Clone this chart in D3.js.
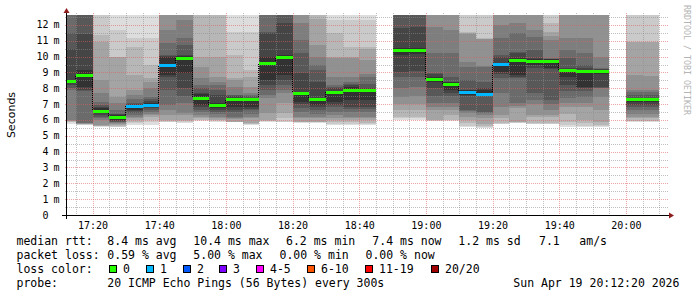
<!DOCTYPE html>
<html>
<head>
<meta charset="utf-8">
<script src="https://cdn.jsdelivr.net/npm/d3@7"></script>
<style>
  html, body { margin: 0; padding: 0; background: #fff; }
  svg { display: block; }
  text { font-family: "DejaVu Sans Mono", monospace; fill: #000; }
</style>
</head>
<body>
<div id="chart"></div>
<script>
'use strict';

const day = '2026-04-19';
const rangeStart = '17:12:20';
const rangeEnd = '20:12:20';

// 5 minute slots (start time), null = no data
const slots = ['17:10', '17:15', '17:20', '17:25', '17:30', '17:35', '17:40', '17:45', '17:50', '17:55',
               '18:00', '18:05', '18:10', '18:15', '18:20', '18:25', '18:30', '18:35', '18:40', '18:45',
               '18:50', '18:55', '19:00', '19:05', '19:10', '19:15', '19:20', '19:25', '19:30', '19:35',
               '19:40', '19:45', '19:50', '19:55', '20:00', '20:05'];

const medians = [8.48, 8.82, 6.57, 6.17, 6.86, 6.95, 9.49, 9.89, 7.39, 6.97,
                 7.30, 7.35, 9.58, 9.96, 7.73, 7.35, 7.79, 7.90, 7.88, null,
                 10.42, 10.42, 8.61, 8.29, 7.77, 7.66, 9.52, 9.79, 9.73, 9.73,
                 9.16, 9.10, 9.10, null, 7.35, 7.35];

const losses = [0, 0, 0, 0, 1, 1, 1, 0, 0, 0,
                0, 0, 0, 0, 0, 0, 0, 0, 0, null,
                0, 0, 0, 0, 1, 1, 1, 0, 0, 0,
                0, 0, 0, null, 0, 0];

// 20 sorted ping rtts (ms) per slot
const pings = [
  [5.75, 5.85, 5.9, 5.92, 5.95, 5.97, 7.9, 8.0, 8.2, 8.4, 8.55, 10.5, 11.5, 13, 13.5, 14, 14.5, 15, 16, 17],
  [5.68, 5.7, 5.72, 5.74, 5.76, 5.78, 5.8, 7.85, 7.9, 8.11, 9.16, 11.4, 13, 13.5, 14, 14.5, 15, 16, 17, 18],
  [5.54, 5.6, 5.62, 5.65, 5.68, 6.0, 6.1, 6.21, 6.3, 6.42, 6.74, 6.8, 6.95, 7.16, 7.68, 8.53, 10.95, 11.37, 13, 14],
  [5.54, 5.58, 5.62, 5.7, 5.75, 5.79, 5.85, 5.9, 5.95, 6.0, 6.32, 6.35, 6.4, 6.63, 7.05, 7.47, 9.95, 10.0, 11.68, 13],
  [5.68, 5.8, 5.9, 6.0, 6.1, 6.2, 6.32, 6.45, 6.55, 6.63, 6.95, 7.0, 7.05, 7.3, 7.6, 7.9, 8.84, 10.63, 11.16, 13],
  [5.68, 5.85, 6.0, 6.21, 6.3, 6.4, 6.5, 6.63, 6.75, 6.84, 7.1, 7.2, 7.3, 7.47, 8.0, 8.42, 8.63, 9.5, 11.16, 13],
  [5.85, 5.9, 5.95, 6.0, 6.32, 6.6, 6.95, 7.9, 8.7, 8.84, 10.0, 10.05, 10.1, 10.84, 11.68, 13, 13.5, 14, 15, 16],
  [5.8, 5.85, 5.95, 6.0, 6.3, 6.42, 7.05, 7.5, 8.0, 8.95, 10.05, 10.1, 10.74, 11.16, 12.3, 13, 13.5, 14, 15, 16],
  [5.95, 5.97, 6.0, 6.1, 6.2, 6.32, 6.5, 6.63, 6.84, 6.95, 7.65, 7.68, 8.0, 8.21, 8.63, 9.37, 10.0, 13, 14, 15],
  [5.9, 5.93, 5.97, 6.0, 6.1, 6.21, 6.4, 6.53, 6.63, 6.74, 7.05, 7.6, 7.9, 8.2, 8.42, 8.74, 10.0, 13, 14, 15],
  [5.85, 5.86, 5.88, 5.9, 6.05, 6.15, 6.21, 6.5, 6.63, 6.84, 7.37, 7.5, 7.55, 7.58, 8.11, 8.5, 8.63, 10.1, 11.58, 13],
  [5.7, 5.72, 5.75, 5.79, 6.1, 6.21, 6.4, 6.63, 6.7, 6.84, 7.37, 7.4, 7.5, 7.6, 7.68, 8.11, 8.74, 9.16, 11.58, 13],
  [5.9, 5.92, 5.95, 6.0, 6.42, 7.37, 7.6, 7.9, 8.2, 8.53, 10.0, 11.5, 11.58, 13, 13.5, 14, 14.5, 15, 16, 17],
  [5.88, 5.9, 6.1, 6.42, 7.05, 7.68, 7.9, 8.21, 8.5, 8.84, 10.1, 12.1, 13, 13.5, 14, 14.5, 15, 16, 17, 18],
  [5.83, 5.85, 5.87, 5.9, 6.1, 6.21, 6.5, 6.74, 7.0, 7.16, 7.79, 8.95, 10.21, 11.05, 12.1, 13, 13.5, 14, 15, 16],
  [5.83, 5.85, 5.87, 5.9, 6.1, 6.21, 6.4, 6.63, 6.8, 6.95, 7.37, 8.42, 9.16, 9.5, 10.0, 10.74, 12.4, 13, 14, 15],
  [5.68, 5.75, 5.85, 6.0, 6.15, 6.32, 6.5, 6.8, 6.95, 7.16, 7.79, 8.0, 8.1, 8.21, 8.74, 9.9, 10.0, 11.47, 12.32, 13],
  [5.68, 5.75, 5.85, 6.0, 6.15, 6.21, 6.5, 6.7, 6.84, 7.26, 8.11, 8.2, 8.3, 8.4, 8.74, 9.9, 10.0, 10.63, 12.32, 13],
  [5.68, 5.72, 5.79, 6.0, 6.1, 6.21, 6.5, 6.7, 6.84, 7.26, 7.9, 8.0, 8.3, 8.74, 8.9, 9.79, 10.5, 10.63, 12.32, 13],
  null,
  [6.0, 6.1, 6.21, 6.63, 7.0, 7.47, 8.0, 8.74, 9.05, 10.1, 10.53, 11.79, 13, 13.5, 14, 14.5, 15, 16, 17, 18],
  [6.0, 6.1, 6.2, 6.6, 7.0, 7.5, 8.1, 8.7, 9.1, 10.15, 10.55, 11.9, 13, 13.5, 14, 14.5, 15, 16, 17, 18],
  [5.93, 5.95, 5.97, 6.0, 6.63, 6.84, 7.05, 7.5, 8.0, 8.42, 8.74, 8.9, 8.95, 10.21, 11.89, 13, 13.5, 14, 15, 16],
  [5.95, 5.97, 6.0, 6.3, 6.63, 6.84, 7.05, 7.5, 7.68, 7.9, 8.4, 8.42, 8.74, 10.21, 11.68, 13, 13.5, 14, 15, 16],
  [5.58, 5.65, 5.8, 6.0, 6.21, 6.45, 6.55, 6.63, 7.5, 7.58, 7.88, 7.9, 8.53, 9.37, 9.68, 11.4, 11.5, 11.58, 13, 14],
  [5.47, 5.55, 5.62, 5.75, 6.11, 6.3, 6.45, 6.53, 7.5, 7.58, 7.9, 8.0, 8.42, 9.37, 9.4, 11.1, 11.13, 11.16, 13, 14],
  [5.75, 5.77, 5.79, 6.1, 6.32, 6.84, 7.68, 8.63, 8.9, 9.05, 9.58, 10.0, 10.1, 11.16, 12.0, 13, 13.5, 14, 15, 16],
  [5.8, 5.82, 5.85, 5.9, 6.74, 6.9, 7.05, 8.63, 8.7, 8.84, 9.89, 10.2, 10.32, 11.47, 12.1, 13, 13.5, 14, 15, 16],
  [5.75, 5.77, 5.79, 6.2, 6.32, 7.0, 7.26, 7.68, 9.26, 9.47, 9.85, 9.9, 10.42, 11.26, 11.68, 13, 13.5, 14, 15, 16],
  [5.75, 5.77, 5.79, 6.2, 6.32, 6.6, 7.0, 7.26, 9.2, 9.26, 9.85, 9.86, 9.88, 9.9, 11.05, 11.3, 11.58, 12.1, 13, 14],
  [5.58, 5.7, 5.9, 6.4, 6.84, 7.1, 7.37, 7.8, 8.21, 8.74, 9.24, 9.26, 9.89, 10.42, 11.16, 13, 13.5, 14, 15, 16],
  [5.58, 5.65, 5.8, 6.0, 6.84, 7.1, 7.47, 7.8, 8.0, 8.11, 9.16, 9.3, 9.47, 10.21, 11.16, 13, 13.5, 14, 15, 16],
  [5.58, 5.6, 5.7, 5.9, 6.63, 7.47, 8.0, 8.05, 8.11, 8.9, 9.15, 9.2, 9.22, 9.26, 10.0, 13, 13.5, 14, 15, 16],
  null,
  [5.9, 5.93, 5.95, 6.1, 6.21, 6.4, 6.63, 6.8, 6.95, 7.16, 7.36, 7.37, 7.58, 7.75, 7.9, 8.84, 10.9, 10.95, 13, 14],
  [5.9, 5.93, 5.95, 6.1, 6.2, 6.4, 6.6, 6.8, 6.95, 7.15, 7.38, 7.4, 7.6, 7.75, 7.9, 8.8, 10.9, 10.95, 13, 14]
];

const yTickLabels = ['0', '1 m', '2 m', '3 m', '4 m', '5 m', '6 m', '7 m', '8 m', '9 m', '10 m', '11 m', '12 m'];
const xTickLabels = ['17:20', '17:40', '18:00', '18:20', '18:40', '19:00', '19:20', '19:40', '20:00'];

const lossLabels = ['0', '1', '2', '3', '4-5', '6-10', '11-19', '20/20'];
const lossColors = ['#26ff00', '#00b8ff', '#0059ff', '#7e00ff', '#ff00ff', '#ff5500', '#ff0000', '#a10000'];

const rttStats = ['8.4 ms avg', '10.4 ms max', '6.2 ms min', '7.4 ms now', '1.2 ms sd', '7.1', 'am/s'];
const lossStats = ['0.59 % avg', '5.00 % max', '0.00 % min', '0.00 % now'];
const probeText = '20 ICMP Echo Pings (56 Bytes) every 300s';
const stampText = 'Sun Apr 19 20:12:20 2026';


function lossIndex( n ) {
    if ( n <= 3 ) { return n; }
    if ( n <= 5 ) { return 4; }
    if ( n <= 10 ) { return 5; }
    if ( n <= 19 ) { return 6; }
    return 7;
}

function smokeGray( k ) {
    var v = 19 * (9 - k) + 50;
    return d3.rgb(v, v, v).toString();
}

var width = 697, height = 297;
var plot = { left: 67, right: 667, top: 15, bottom: 215 };

var parseFull = d3.utcParse('%Y-%m-%d %H:%M:%S');
var parseMin = d3.utcParse('%Y-%m-%d %H:%M');

var x = d3.scaleUtc()
    .domain([ parseFull(day + ' ' + rangeStart), parseFull(day + ' ' + rangeEnd) ])
    .range([ plot.left, plot.right ]);

var y = d3.scaleLinear()
    .domain([ 0, 12.63 ])
    .range([ plot.bottom, plot.top ]);

var svg = d3.select('#chart').append('svg')
    .attr('width', width)
    .attr('height', height)
    .attr('viewBox', [0, 0, width, height].join(' '));

svg.append('defs').append('clipPath')
    .attr('id', 'plotclip')
    .append('rect')
    .attr('x', plot.left)
    .attr('y', plot.top)
    .attr('width', plot.right - plot.left)
    .attr('height', plot.bottom - plot.top);

var columns = slots.map(function( s, i ) {
    var t0 = parseMin(day + ' ' + s);
    var t1 = d3.utcMinute.offset(t0, 5);
    return {
        x0: Math.max(plot.left, Math.round(x(t0))),
        x1: Math.round(x(t1)),
        median: medians[i],
        loss: losses[i],
        pings: pings[i]
    };
});

// smoke
var smoke = svg.append('g')
    .attr('clip-path', 'url(#plotclip)')
    .attr('shape-rendering', 'crispEdges');

columns.forEach(function( c ) {
    if ( !c.pings ) { return; }
    for ( var k = 0; k < 10; k++ ) {
        var top = y(c.pings[19 - k]);
        var bot = y(c.pings[k]);
        smoke.append('rect')
            .attr('x', c.x0)
            .attr('width', c.x1 - c.x0)
            .attr('y', top)
            .attr('height', Math.max(0, bot - top))
            .attr('fill', smokeGray(k));
    }
});

// grid
var minorColor = 'rgba(140,140,140,0.55)';
var majorColor = 'rgba(230,90,90,0.55)';
var grid = svg.append('g').attr('shape-rendering', 'crispEdges');

var minorTimes = x.ticks(d3.utcMinute.every(5));
var majorTimes = xTickLabels.map(function( l ) { return parseMin(day + ' ' + l); });

grid.selectAll('.vminor')
    .data( minorTimes.filter(function( t ) { return t.getUTCMinutes() % 20 !== 0; }) )
    .enter().append('line')
    .attr('x1', function( d ) { return Math.round(x(d)) + 0.5; })
    .attr('x2', function( d ) { return Math.round(x(d)) + 0.5; })
    .attr('y1', plot.top - 2)
    .attr('y2', plot.bottom + 2)
    .attr('stroke', minorColor)
    .attr('stroke-dasharray', '1,1');

var minorVals = d3.range(1, 26).map(function( i ) { return i * 0.5; })
    .filter(function( v ) { return v % 1 !== 0 && v < 12.63; });

grid.selectAll('.hminor')
    .data( minorVals )
    .enter().append('line')
    .attr('y1', function( d ) { return Math.round(y(d)) + 0.5; })
    .attr('y2', function( d ) { return Math.round(y(d)) + 0.5; })
    .attr('x1', plot.left - 2)
    .attr('x2', plot.right + 2)
    .attr('stroke', minorColor)
    .attr('stroke-dasharray', '1,1');

grid.selectAll('.vmajor')
    .data( majorTimes )
    .enter().append('line')
    .attr('x1', function( d ) { return Math.round(x(d)) + 0.5; })
    .attr('x2', function( d ) { return Math.round(x(d)) + 0.5; })
    .attr('y1', plot.top - 2)
    .attr('y2', plot.bottom + 2)
    .attr('stroke', majorColor)
    .attr('stroke-dasharray', '1,1');

grid.selectAll('.hmajor')
    .data( d3.range(1, yTickLabels.length) )
    .enter().append('line')
    .attr('y1', function( d ) { return Math.round(y(d)) + 0.5; })
    .attr('y2', function( d ) { return Math.round(y(d)) + 0.5; })
    .attr('x1', plot.left - 2)
    .attr('x2', plot.right + 2)
    .attr('stroke', majorColor)
    .attr('stroke-dasharray', '1,1');

// median line, coloured by loss
var med = svg.append('g')
    .attr('clip-path', 'url(#plotclip)')
    .attr('shape-rendering', 'crispEdges');

columns.forEach(function( c, i ) {
    if ( c.median === null ) { return; }
    var next = columns[i + 1];
    if ( next && next.median !== null && next.median !== c.median ) {
        med.append('line')
            .attr('x1', c.x1 - 0.5).attr('x2', c.x1 - 0.5)
            .attr('y1', y(c.median)).attr('y2', y(next.median))
            .attr('stroke', '#000')
            .attr('stroke-dasharray', '1,1');
    }
});

columns.forEach(function( c ) {
    if ( c.median === null ) { return; }
    med.append('rect')
        .attr('x', c.x0)
        .attr('width', c.x1 - c.x0)
        .attr('y', Math.round(y(c.median)) - 1)
        .attr('height', 3)
        .attr('fill', lossColors[lossIndex(c.loss)]);
});

// axes
var axes = svg.append('g').attr('shape-rendering', 'crispEdges');
axes.append('line')
    .attr('x1', plot.left - 0.5).attr('x2', plot.left - 0.5)
    .attr('y1', plot.top - 3).attr('y2', plot.bottom + 4)
    .attr('stroke', '#000');
axes.append('line')
    .attr('x1', plot.left - 5).attr('x2', plot.right + 2)
    .attr('y1', plot.bottom + 0.5).attr('y2', plot.bottom + 0.5)
    .attr('stroke', '#000');

var arrowColor = '#8f1d1d';
svg.append('path')
    .attr('d', 'M' + (plot.left - 0.5) + ',' + (plot.top - 7) + 'l-3,5h6z')
    .attr('fill', arrowColor);
svg.append('path')
    .attr('d', 'M' + (plot.right + 7) + ',' + (plot.bottom + 0.5) + 'l-5,-3v6z')
    .attr('fill', arrowColor);

// y labels
var ylab = svg.append('g').attr('font-size', '10px');
yTickLabels.forEach(function( l, i ) {
    var parts = l.split(' ');
    ylab.append('text')
        .attr('x', 48.5)
        .attr('y', y(i) + 3.5)
        .attr('text-anchor', 'end')
        .text(parts[0]);
    if ( parts[1] ) {
        ylab.append('text')
            .attr('x', 53.5)
            .attr('y', y(i) + 3.5)
            .text(parts[1]);
    }
});

// x labels
svg.append('g').attr('font-size', '10px')
    .selectAll('text')
    .data( xTickLabels )
    .enter().append('text')
    .attr('x', function( d ) { return x(parseMin(day + ' ' + d)) + 0.5; })
    .attr('y', 228.5)
    .attr('text-anchor', 'middle')
    .text(function( d ) { return d; });

// axis title and watermark
svg.append('text')
    .attr('transform', 'translate(15,' + ((plot.top + plot.bottom) / 2) + ') rotate(-90)')
    .attr('text-anchor', 'middle')
    .style('font-family', '"DejaVu Sans", sans-serif')
    .attr('font-size', '11px')
    .text('Seconds');

svg.append('text')
    .attr('transform', 'translate(684,5) rotate(90)')
    .attr('font-size', '8.3px')
    .style('fill', '#b4b4b4')
    .text('RRDTOOL / TOBI OETIKER');

// legend
var legend = svg.append('g')
    .attr('font-size', '11.5px')
    .style('white-space', 'pre');

var lineY = [245, 259, 273, 287];
var labelX = 16.5;

legend.append('text').attr('x', labelX).attr('y', lineY[0]).text('median rtt:');
var rttX = [107.3, 193.3, 286, 372.3, 458.3, 539, 579.3];
rttStats.forEach(function( s, i ) {
    legend.append('text').attr('x', rttX[i]).attr('y', lineY[0]).text(s);
});

legend.append('text').attr('x', labelX).attr('y', lineY[1]).text('packet loss:');
var lossX = [107.3, 193.3, 279.5, 365.5];
lossStats.forEach(function( s, i ) {
    legend.append('text').attr('x', lossX[i]).attr('y', lineY[1]).text(s);
});

legend.append('text').attr('x', labelX).attr('y', lineY[2]).text('loss color:');
var boxX = [109, 146, 183, 219, 256, 307, 365, 431];
lossLabels.forEach(function( l, i ) {
    legend.append('rect')
        .attr('x', boxX[i] + 0.5)
        .attr('y', lineY[2] - 7.5)
        .attr('width', 7)
        .attr('height', 7)
        .attr('fill', lossColors[i])
        .attr('stroke', '#000')
        .attr('shape-rendering', 'crispEdges');
    legend.append('text').attr('x', boxX[i] + 14).attr('y', lineY[2]).text(l);
});

legend.append('text').attr('x', labelX).attr('y', lineY[3]).text('probe:');
legend.append('text').attr('x', 107.3).attr('y', lineY[3]).text(probeText);
legend.append('text').attr('x', 513.3).attr('y', lineY[3]).text(stampText);
</script>
</body>
</html>
